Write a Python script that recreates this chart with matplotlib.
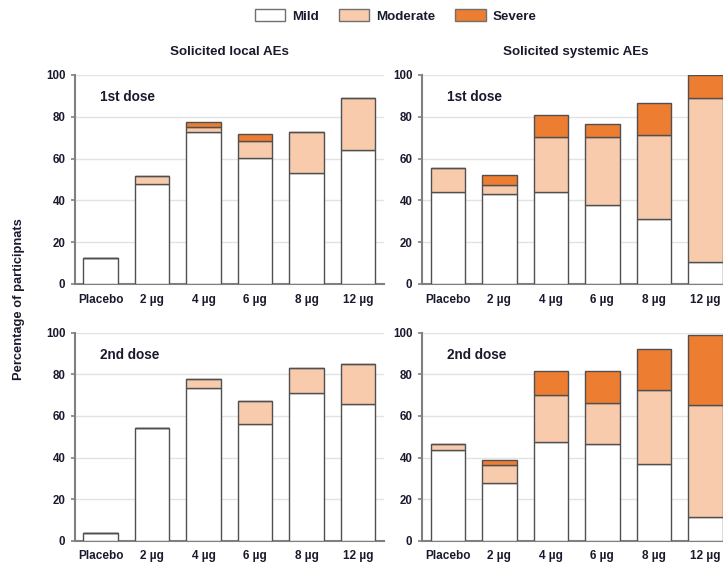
import matplotlib.pyplot as plt
from matplotlib.patches import Patch

plt.rcParams['font.family'] = ['Liberation Sans', 'DejaVu Sans']

groups = ["Placebo", "2 µg", "4 µg", "6 µg", "8 µg", "12 µg"]
levels = ["Mild", "Moderate", "Severe"]
colors = ["#FFFFFF", "#F8CBAD", "#ED7D31"]

# cumulative tops (percent) for mild / moderate / severe
local_d1_mild = [12.4, 47.8, 72.5, 60.5, 52.9, 63.9]
local_d1_mod = [12.4, 51.8, 75.0, 68.3, 72.9, 88.9]
local_d1_sev = [12.4, 51.8, 77.7, 71.8, 72.9, 88.9]

sys_d1_mild = [43.8, 43.2, 43.8, 37.6, 31.2, 10.7]
sys_d1_mod = [55.7, 47.5, 70.5, 70.5, 71.2, 88.9]
sys_d1_sev = [55.7, 52.2, 81.0, 76.4, 86.6, 100.0]

local_d2_mild = [3.8, 54.3, 73.2, 56.1, 71.2, 65.9]
local_d2_mod = [3.8, 54.3, 77.6, 67.1, 83.2, 84.9]
local_d2_sev = [3.8, 54.3, 77.6, 67.1, 83.2, 84.9]

sys_d2_mild = [43.5, 27.6, 47.6, 46.3, 36.7, 11.6]
sys_d2_mod = [46.5, 36.2, 70.3, 66.3, 72.7, 65.2]
sys_d2_sev = [46.5, 39.0, 81.7, 81.7, 92.1, 99.0]

panels = [
    ([local_d1_mild, local_d1_mod, local_d1_sev], "1st dose", [0.1037, 0.4965, 0.4274, 0.3706]),
    ([sys_d1_mild, sys_d1_mod, sys_d1_sev], "1st dose", [0.5837, 0.4965, 0.4274, 0.3706]),
    ([local_d2_mild, local_d2_mod, local_d2_sev], "2nd dose", [0.1037, 0.0413, 0.4274, 0.3687]),
    ([sys_d2_mild, sys_d2_mod, sys_d2_sev], "2nd dose", [0.5837, 0.0413, 0.4274, 0.3687]),
]

fig = plt.figure(figsize=(7.23, 5.64), dpi=100)
x = range(len(groups))
for tops, label, pos in panels:
    ax = fig.add_axes(pos)
    bottom = [0] * len(groups)
    for lvl, top, c in zip(levels, tops, colors):
        h = [t - b for t, b in zip(top, bottom)]
        ax.bar(x, h, bottom=bottom, width=0.67, color=c, edgecolor="#505050", linewidth=1.0, zorder=3)
        bottom = top
    ax.set_xlim(-0.5, 5.5)
    ax.set_ylim(0, 100)
    ax.set_yticks([0, 20, 40, 60, 80, 100])
    ax.set_xticks(list(x))
    ax.set_xticklabels(groups, fontweight="bold", fontsize=8.5, color="#1a1a2e")
    for t in ax.get_yticklabels():
        t.set_fontweight("bold")
        t.set_fontsize(8.3)
        t.set_color("#1a1a2e")
    ax.tick_params(axis="x", length=0, pad=7)
    ax.tick_params(axis="y", length=3, color="#808080", width=1.2, pad=4)
    ax.grid(axis="y", color="#E3E3E3", linewidth=1.0, zorder=0)
    for s in ["top", "right"]:
        ax.spines[s].set_visible(False)
    for s in ["left", "bottom"]:
        ax.spines[s].set_color("#808080")
        ax.spines[s].set_linewidth(1.5)
    ax.text(0.08, 89.5, label, transform=ax.get_yaxis_transform(), fontsize=9.8,
            fontweight="bold", color="#1a1a2e", va="center")

fig.text(0.318, 0.908, "Solicited local AEs", ha="center", va="center", fontsize=9.6,
         fontweight="bold", color="#1a1a2e")
fig.text(0.797, 0.908, "Solicited systemic AEs", ha="center", va="center", fontsize=9.6,
         fontweight="bold", color="#1a1a2e")
fig.text(0.026, 0.47, "Percentage of participnats", rotation=90, ha="center", va="center",
         fontsize=9.3, fontweight="bold", color="#1a1a2e")

handles = [Patch(facecolor=c, edgecolor="#707070", label=l) for c, l in zip(colors, levels)]
leg = fig.legend(handles=handles, loc="upper center", bbox_to_anchor=(0.547, 1.005), ncol=3,
                 frameon=False, handlelength=2.3, handleheight=1.0, columnspacing=1.5,
                 handletextpad=0.5, fontsize=9.6)
for t in leg.get_texts():
    t.set_fontweight("bold")
    t.set_color("#1a1a2e")

fig.savefig("out.png", dpi=100)
